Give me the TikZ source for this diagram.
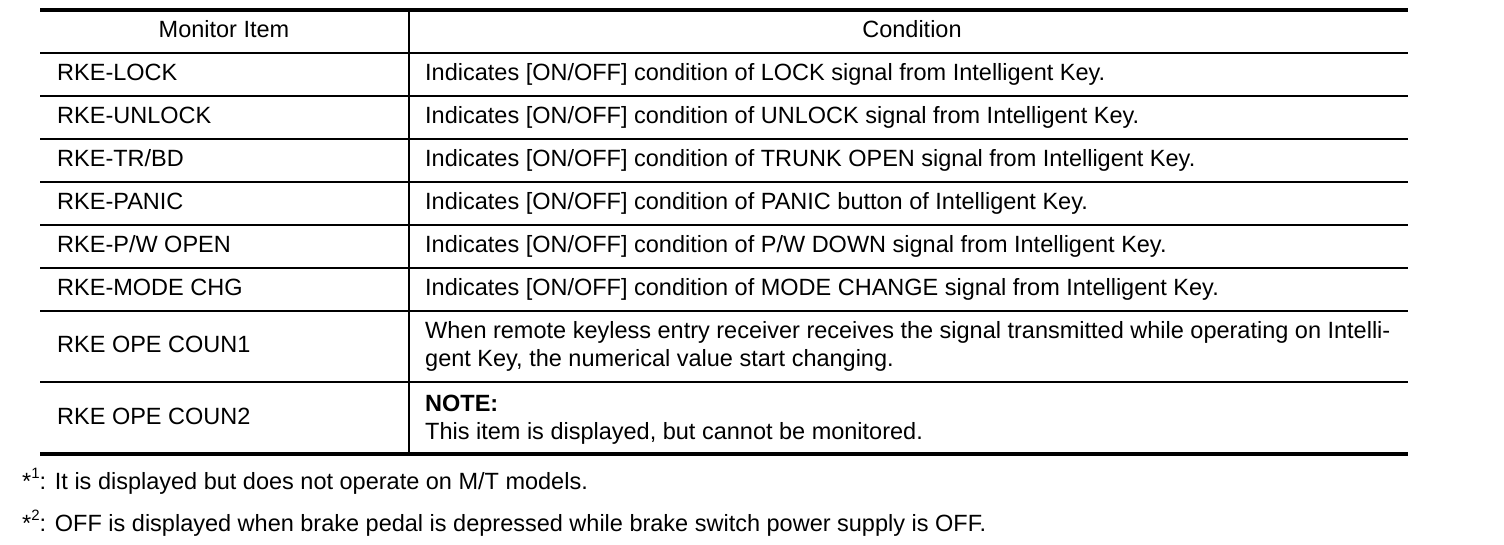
\documentclass[tikz,border=0pt]{standalone}
\usepackage{fontspec}
\setmainfont{Liberation Sans}
\begin{document}
\begin{tikzpicture}[x=1pt,y=-1pt,
  txt/.style={anchor=base west,inner sep=0pt,font=\fontsize{23.5}{28}\selectfont},
  hdr/.style={anchor=base,inner sep=0pt,font=\fontsize{23.5}{28}\selectfont},
  thickrule/.style={line width=3.2pt},
  thinrule/.style={line width=2pt}]
\useasboundingbox (0,0) rectangle (1504,544);
% rules
\coordinate (tl) at (40,10); \coordinate (tr) at (1408,10);
\coordinate (bl) at (40,454); \coordinate (br) at (1408,454);
\draw[thickrule] (tl) -- (tr);
\draw[thickrule] (bl) -- (br);
\foreach \y in {53,96,139,182,225,268,311,382}{
  \draw[thinrule] (40,\y) -- (1408,\y);
}
\coordinate (dt) at (409,10); \coordinate (db) at (409,454);
\draw[thinrule] (dt) -- (db);
% header
\node[hdr] (h1) at (224,37) {Monitor Item};
\node[hdr] (h2) at (912,37) {Condition};
% rows
\node[txt] (a1) at (57,80) {RKE-LOCK};
\node[txt] (b1) at (425,80) {Indicates [ON/OFF] condition of LOCK signal from Intelligent Key.};
\node[txt] (a2) at (57,123) {RKE-UNLOCK};
\node[txt] (b2) at (425,123) {Indicates [ON/OFF] condition of UNLOCK signal from Intelligent Key.};
\node[txt] (a3) at (57,166) {RKE-TR/BD};
\node[txt] (b3) at (425,166) {Indicates [ON/OFF] condition of TRUNK OPEN signal from Intelligent Key.};
\node[txt] (a4) at (57,209) {RKE-PANIC};
\node[txt] (b4) at (425,209) {Indicates [ON/OFF] condition of PANIC button of Intelligent Key.};
\node[txt] (a5) at (57,252) {RKE-P/W OPEN};
\node[txt] (b5) at (425,252) {Indicates [ON/OFF] condition of P/W DOWN signal from Intelligent Key.};
\node[txt] (a6) at (57,295) {RKE-MODE CHG};
\node[txt] (b6) at (425,295) {Indicates [ON/OFF] condition of MODE CHANGE signal from Intelligent Key.};
\node[txt] (a7) at (57,352) {RKE OPE COUN1};
\node[txt] (b7a) at (425,338) {When remote keyless entry receiver receives the signal transmitted while operating on Intelli-};
\node[txt] (b7b) at (425,366) {gent Key, the numerical value start changing.};
\node[txt] (a8) at (57,424) {RKE OPE COUN2};
\node[txt] (b8a) at (425,411) {\bfseries NOTE:};
\node[txt] (b8b) at (425,439) {This item is displayed, but cannot be monitored.};
% footnotes
\node[txt] (f1) at (22,489) {*\raisebox{0.45em}{\fontsize{15}{15}\selectfont 1}: It is displayed but does not operate on M/T models.};
\node[txt] (f2) at (22,531) {*\raisebox{0.45em}{\fontsize{15}{15}\selectfont 2}: OFF is displayed when brake pedal is depressed while brake switch power supply is OFF.};
\end{tikzpicture}
\end{document}
